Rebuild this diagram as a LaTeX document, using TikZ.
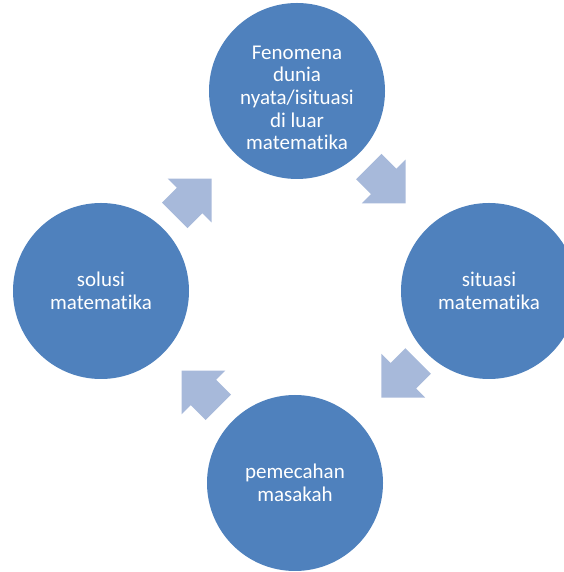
\documentclass[tikz,border=0pt]{standalone}
\usepackage{fontspec}
\setmainfont{Carlito}[Ligatures=NoCommon]
\usepackage{tikz}
\usetikzlibrary{positioning, calc}
\definecolor{cycBlue}{HTML}{4F81BD}
\definecolor{cycArrow}{HTML}{A7B9DA}

\begin{document}
\begin{tikzpicture}[
  x=1pt, y=1pt,
  font=\fontsize{21}{22.7}\selectfont,
  stage/.style={circle, fill=cycBlue, text=white, align=center,
                minimum size=176pt, inner sep=0pt},
  flow/.pic={\fill[cycArrow] (-26,-18) -- (-5,-18) -- (-5,-31) -- (26,0)
                -- (-5,31) -- (-5,18) -- (-26,18) -- cycle;},
]
\useasboundingbox (0,0) rectangle (563,572);

\node[stage, text height=118pt] (fenomena) at (297,481) {Fenomena\\ dunia\\ nyata/isituasi\\ di luar\\ matematika};
\node[stage] (situasi)  at (489,281) {situasi\\ matematika};
\node[stage] (pemecahan) at (295,89) {pemecahan\\ masakah};
\node[stage] (solusi)   at (101,281) {solusi\\ matematika};

% block arrows between the stages
\pic[rotate=-45] (f2s) at ($(fenomena)!0.47!(situasi)$) {flow};
\pic[rotate=-135] (s2p) at ($(situasi)!0.46!(pemecahan)$) {flow};
\pic[rotate=135] (p2l) at ($(pemecahan)!0.49!(solusi)$) {flow};
\pic[rotate=45] (l2f) at ($(solusi)!0.47!(fenomena)$) {flow};
\end{tikzpicture}
\end{document}
